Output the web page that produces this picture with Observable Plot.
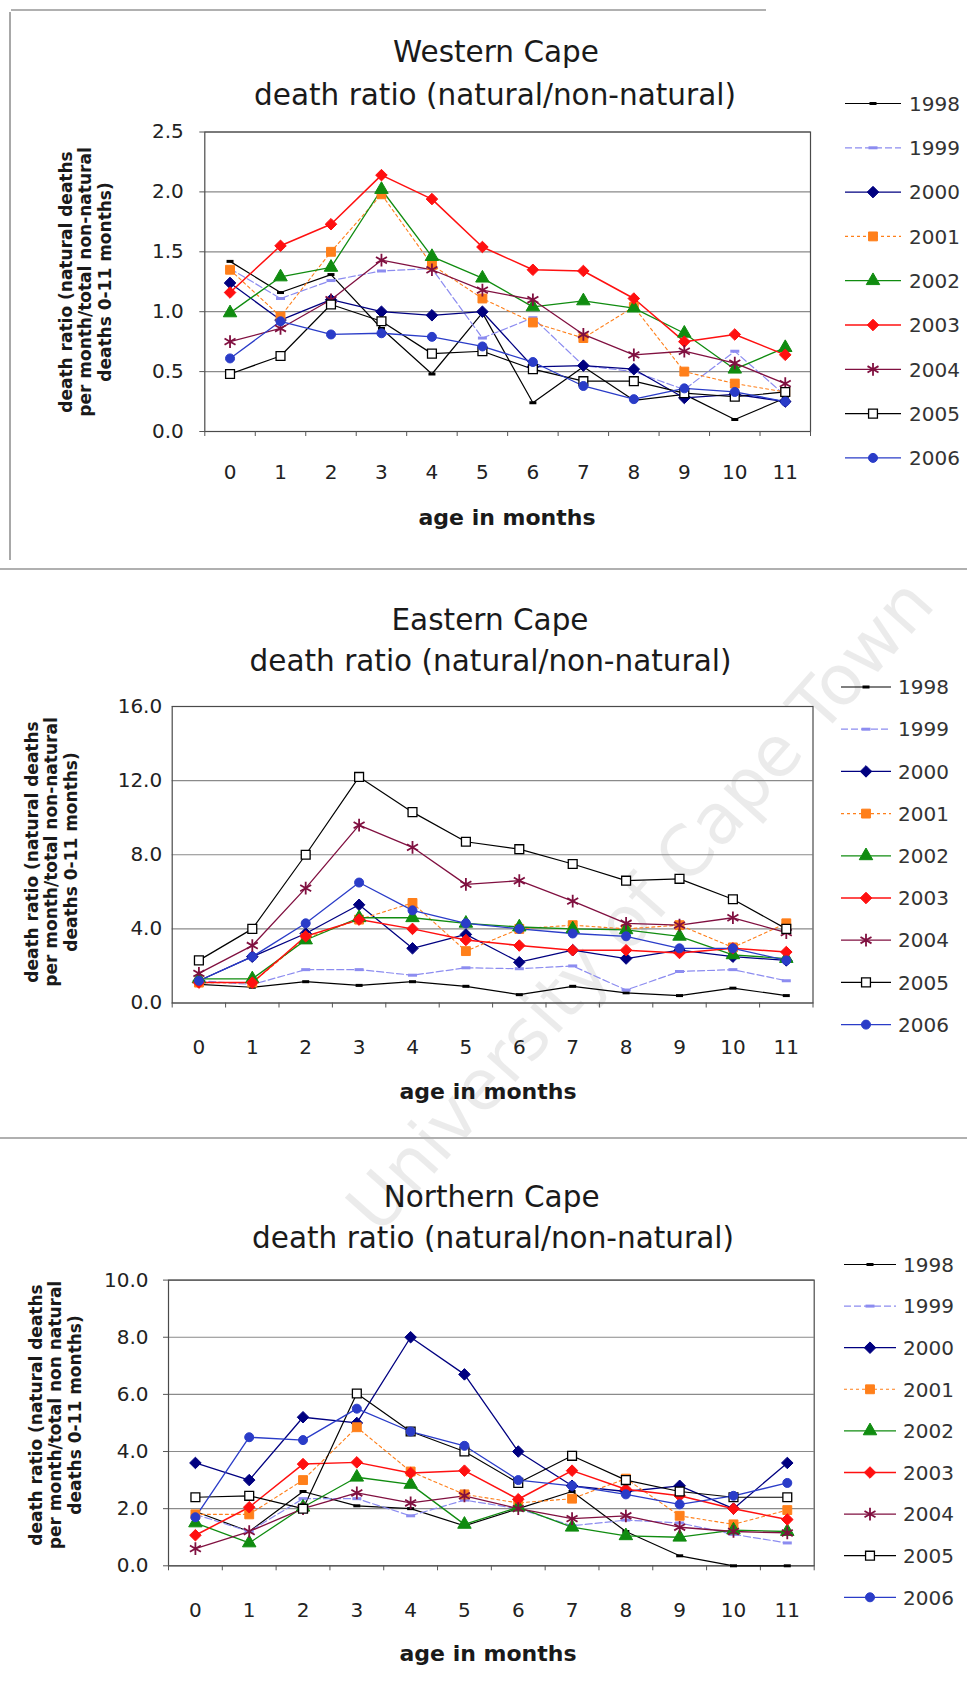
<!DOCTYPE html>
<html>
<head>
<meta charset="utf-8">
<script src="https://cdn.jsdelivr.net/npm/d3@7"></script>
<script src="https://cdn.jsdelivr.net/npm/@observablehq/plot@0.6"></script>
<style>
  body { margin: 0; background: #fff; }
  #page { position: relative; width: 967px; height: 1691px; overflow: hidden; background: #fff;
          font-family: "DejaVu Sans", sans-serif; color: #1a1a1a; }
  .abs { position: absolute; }
  .ttl { position: absolute; transform: translate(-50%, -50%); white-space: nowrap; font-size: 29.5px; }
  .xlab { position: absolute; transform: translate(-50%, -50%); white-space: nowrap; font-size: 22px; font-weight: bold; }
  .ylab { position: absolute; transform: translate(-50%, -50%) rotate(-90deg); white-space: pre; text-align: center;
          font-size: 17px; font-weight: bold; line-height: 19.4px; }
  .deco { position: absolute; background: #9a9a9a; }
  .wm { position: absolute; white-space: nowrap; font-size: 70px; color: rgba(0,0,0,0.08);
        transform: translate(-50%, -50%) rotate(-48.5deg); }
</style>
</head>
<body>
<div id="page"></div>
<script>
// ---------------- data ----------------
const months = [0, 1, 2, 3, 4, 5, 6, 7, 8, 9, 10, 11];
const years = ["1998", "1999", "2000", "2001", "2002", "2003", "2004", "2005", "2006"];

// Western Cape
const wc1998 = [1.42, 1.16, 1.31, 0.86, 0.48, 0.99, 0.24, 0.54, 0.26, 0.31, 0.10, 0.28];
const wc1999 = [1.36, 1.11, 1.26, 1.34, 1.36, 0.78, 0.95, 0.55, 0.50, 0.35, 0.67, 0.30];
const wc2000 = [1.24, 0.93, 1.10, 1.00, 0.97, 1.00, 0.54, 0.55, 0.52, 0.28, 0.31, 0.25];
const wc2001 = [1.35, 0.96, 1.50, 1.98, 1.39, 1.11, 0.91, 0.78, 1.04, 0.50, 0.40, 0.33];
const wc2002 = [0.99, 1.29, 1.37, 2.02, 1.46, 1.28, 1.04, 1.09, 1.03, 0.82, 0.52, 0.70];
const wc2003 = [1.16, 1.55, 1.73, 2.14, 1.94, 1.54, 1.35, 1.34, 1.11, 0.75, 0.81, 0.64];
const wc2004 = [0.75, 0.86, 1.10, 1.43, 1.35, 1.18, 1.10, 0.81, 0.64, 0.67, 0.57, 0.40];
const wc2005 = [0.48, 0.63, 1.06, 0.92, 0.65, 0.67, 0.52, 0.42, 0.42, 0.32, 0.29, 0.33];
const wc2006 = [0.61, 0.92, 0.81, 0.82, 0.79, 0.71, 0.58, 0.38, 0.27, 0.36, 0.33, 0.25];

// Eastern Cape
const ec1998 = [1.0, 0.85, 1.15, 0.95, 1.15, 0.9, 0.45, 0.9, 0.55, 0.4, 0.8, 0.4];
const ec1999 = [1.2, 1.0, 1.8, 1.8, 1.5, 1.9, 1.85, 2.0, 0.7, 1.7, 1.8, 1.2];
const ec2000 = [1.2, 2.5, 3.75, 5.3, 2.95, 3.7, 2.2, 2.85, 2.4, 2.85, 2.5, 2.3];
const ec2001 = [1.1, 1.1, 3.5, 4.5, 5.4, 2.8, 4.0, 4.2, 4.0, 4.2, 3.0, 4.3];
const ec2002 = [1.3, 1.3, 3.4, 4.6, 4.6, 4.3, 4.1, 4.0, 3.95, 3.6, 2.6, 2.4];
const ec2003 = [1.1, 1.1, 3.6, 4.5, 4.0, 3.4, 3.1, 2.85, 2.85, 2.7, 2.95, 2.75];
const ec2004 = [1.6, 3.1, 6.2, 9.6, 8.4, 6.4, 6.6, 5.5, 4.3, 4.2, 4.6, 3.8];
const ec2005 = [2.3, 4.0, 8.0, 12.2, 10.3, 8.7, 8.3, 7.5, 6.6, 6.7, 5.6, 4.0];
const ec2006 = [1.2, 2.5, 4.3, 6.5, 5.0, 4.3, 4.0, 3.75, 3.6, 2.95, 2.95, 2.3];

// Northern Cape
const nc1998 = [1.9, 1.2, 2.6, 2.1, 2.0, 1.4, 2.0, 2.6, 1.2, 0.35, 0.0, 0.0];
const nc1999 = [1.8, 1.2, 2.35, 2.35, 1.75, 2.3, 2.0, 1.4, 1.6, 1.5, 1.1, 0.8];
const nc2000 = [3.6, 3.0, 5.2, 5.0, 8.0, 6.7, 4.0, 2.8, 2.6, 2.8, 2.0, 3.6];
const nc2001 = [1.8, 1.8, 3.0, 4.85, 3.3, 2.5, 2.2, 2.35, 3.05, 1.75, 1.45, 1.95];
const nc2002 = [1.5, 0.8, 2.05, 3.1, 2.85, 1.45, 2.05, 1.35, 1.05, 1.0, 1.25, 1.2];
const nc2003 = [1.07, 2.05, 3.56, 3.62, 3.25, 3.33, 2.33, 3.33, 2.68, 2.45, 2.0, 1.62];
const nc2004 = [0.6, 1.2, 2.0, 2.55, 2.2, 2.45, 2.0, 1.65, 1.75, 1.35, 1.2, 1.15];
const nc2005 = [2.4, 2.45, 2.0, 6.03, 4.7, 4.0, 2.9, 3.85, 3.0, 2.6, 2.4, 2.4];
const nc2006 = [1.7, 4.5, 4.4, 5.5, 4.7, 4.2, 3.0, 2.8, 2.5, 2.15, 2.45, 2.9];

const wcTicks = [0, 0.5, 1.0, 1.5, 2.0, 2.5];
const ecTicks = [0, 4, 8, 12, 16];
const ncTicks = [0, 2, 4, 6, 8, 10];

const panelTitle = ["Western Cape", "Eastern Cape", "Northern Cape"];
const subTitle = "death ratio (natural/non-natural)";
const xTitle = "age in months";
const yTitles = [
  "death ratio (natural deaths\nper month/total non-natural\ndeaths 0-11 months)",
  "death ratio (natural deaths\nper month/total non-natural\ndeaths 0-11 months)",
  "death ratio (natural deaths\nper month/total non natural\ndeaths 0-11 months)"
];
const watermark = "University of Cape Town";

// ---------------- styles ----------------
const dash = { draw(ctx, size) { const w = Math.sqrt(size / Math.PI); ctx.moveTo(-w, 0); ctx.lineTo(w, 0); } };
const styles = {
  "1998": { color: "#000000", w: 1.2, dashArr: null, symbol: dash, r: 3.5, fill: "none", stroke: "#000000", sw: 3 },
  "1999": { color: "#8c8cf0", w: 1.2, dashArr: "7,3", symbol: dash, r: 4.5, fill: "none", stroke: "#8c8cf0", sw: 3 },
  "2000": { color: "#000080", w: 1.3, dashArr: null, symbol: "diamond2", r: 5.2, fill: "#000080", stroke: "#000080", sw: 1 },
  "2001": { color: "#ff7f1a", w: 1.1, dashArr: "3,3", symbol: "square", r: 5, fill: "#ff7f1a", stroke: "#ff7f1a", sw: 1 },
  "2002": { color: "#108c10", w: 1.3, dashArr: null, symbol: "triangle", r: 5, fill: "#108c10", stroke: "#108c10", sw: 1 },
  "2003": { color: "#ff1010", w: 1.5, dashArr: null, symbol: "diamond2", r: 5.2, fill: "#ff1010", stroke: "#ff1010", sw: 1 },
  "2004": { color: "#801040", w: 1.3, dashArr: null, symbol: "asterisk", r: 6, fill: "none", stroke: "#801040", sw: 1.8 },
  "2005": { color: "#000000", w: 1.2, dashArr: null, symbol: "square", r: 5, fill: "#ffffff", stroke: "#000000", sw: 1.3 },
  "2006": { color: "#2a3cc8", w: 1.3, dashArr: null, symbol: "circle", r: 4.5, fill: "#2a3cc8", stroke: "#2a3cc8", sw: 1 }
};
const d3Symbols = { diamond2: d3.symbolDiamond2, square: d3.symbolSquare, triangle: d3.symbolTriangle, asterisk: d3.symbolAsterisk, circle: d3.symbolCircle };

// ---------------- layout ----------------
const panels = [
  { series: [wc1998, wc1999, wc2000, wc2001, wc2002, wc2003, wc2004, wc2005, wc2006], ticks: wcTicks, ymax: 2.5,
    svgTop: 110, frameTop: 131.5, frameBottom: 431, left: 204.3, right: 810, tickSize: 5, tickPad: 16, xPad: 33,
    title: [496, 52], sub: [495, 95], xlab: [507, 517], ylab: [86, 282],
    legend: { top: 103.5, gap: 44.3, x1: 845, x2: 901, tx: 909 } },
  { series: [ec1998, ec1999, ec2000, ec2001, ec2002, ec2003, ec2004, ec2005, ec2006], ticks: ecTicks, ymax: 16,
    svgTop: 690, frameTop: 706, frameBottom: 1002.5, left: 171.7, right: 812.5, tickSize: 0, tickPad: 10, xPad: 36.5,
    title: [490, 620], sub: [490.5, 661], xlab: [488, 1091], ylab: [52, 852],
    legend: { top: 687, gap: 42.2, x1: 841, x2: 891, tx: 898 } },
  { series: [nc1998, nc1999, nc2000, nc2001, nc2002, nc2003, nc2004, nc2005, nc2006], ticks: ncTicks, ymax: 10,
    svgTop: 1265, frameTop: 1279.6, frameBottom: 1565.3, left: 168, right: 813.7, tickSize: 5, tickPad: 15, xPad: 37,
    title: [491.6, 1197], sub: [493, 1238], xlab: [488, 1652.6], ylab: [56, 1415],
    legend: { top: 1264.5, gap: 41.6, x1: 844, x2: 896, tx: 903 } }
];

const page = document.getElementById("page");

// watermark (behind everything)
function addText(cls, text, [x, y]) {
  const d = document.createElement("div");
  d.className = cls; d.textContent = text;
  d.style.left = x + "px"; d.style.top = y + "px";
  page.appendChild(d);
}
addText("wm", watermark, [640, 905]);

// scan decoration lines
[[11, 9, 755, 1.5], [0, 568, 967, 1.5], [0, 1137, 967, 1.5]].forEach(([x, y, w, h]) => {
  const d = document.createElement("div"); d.className = "deco";
  Object.assign(d.style, { left: x + "px", top: y + "px", width: w + "px", height: h + "px", background: "#b0b0b0" });
  page.appendChild(d);
});
{ const d = document.createElement("div"); d.className = "deco";
  Object.assign(d.style, { left: "9px", top: "12px", width: "1.5px", height: "548px", background: "#a8a8a8" });
  page.appendChild(d); }

const halfTicks = d3.range(-0.5, 12, 1);

panels.forEach((p, pi) => {
  const rows = [];
  years.forEach((yr, i) => p.series[i].forEach((v, m) => rows.push({ year: yr, month: months[m], value: v })));

  const marginBottom = 60;
  const marginTop = p.frameTop - p.svgTop;
  const height = marginTop + (p.frameBottom - p.frameTop) + marginBottom;

  const marks = [
    Plot.ruleY(p.ticks, { stroke: "#8a8a8a", strokeWidth: 1.2 }),
    Plot.frame({ stroke: "#4a4a4a", strokeWidth: 1.2 }),
    Plot.axisY({ ticks: p.ticks, tickFormat: d => d.toFixed(1), tickSize: p.tickSize, tickPadding: p.tickPad, label: null, stroke: "#555" }),
    Plot.axisX({ ticks: halfTicks, tickFormat: () => "", tickSize: 5, label: null, stroke: "#555" }),
    Plot.axisX({ ticks: months, tickFormat: d => String(d), tickSize: 0, tickPadding: p.xPad, label: null })
  ];
  years.forEach(yr => {
    const st = styles[yr];
    const d = rows.filter(r => r.year === yr);
    marks.push(Plot.line(d, { x: "month", y: "value", stroke: st.color, strokeWidth: st.w, strokeDasharray: st.dashArr || undefined }));
  });
  years.forEach(yr => {
    const st = styles[yr];
    const d = rows.filter(r => r.year === yr);
    marks.push(Plot.dot(d, { x: "month", y: "value", symbol: st.symbol, r: st.r, fill: st.fill, stroke: st.stroke, strokeWidth: st.sw }));
  });

  const chart = Plot.plot({
    width: 967,
    height,
    marginLeft: p.left,
    marginRight: 967 - p.right,
    marginTop,
    marginBottom,
    x: { domain: [-0.5, 11.5] },
    y: { domain: [0, p.ymax] },
    style: { fontFamily: "DejaVu Sans, sans-serif", fontSize: "20px", color: "#222", background: "transparent", overflow: "visible" },
    marks
  });
  chart.style.position = "absolute";
  chart.style.left = "0px";
  chart.style.top = p.svgTop + "px";
  page.appendChild(chart);

  addText("ttl", panelTitle[pi], p.title);
  addText("ttl", subTitle, p.sub);
  addText("xlab", xTitle, p.xlab);
  addText("ylab", yTitles[pi], p.ylab);

  // legend
  const L = p.legend;
  const svg = d3.select(page).append("svg")
    .attr("class", "abs")
    .style("left", "0px").style("top", "0px")
    .attr("width", 967).attr("height", 1691)
    .style("pointer-events", "none");
  years.forEach((yr, i) => {
    const st = styles[yr];
    const y = L.top + i * L.gap;
    const g = svg.append("g");
    g.append("line").attr("x1", L.x1).attr("x2", L.x2).attr("y1", y).attr("y2", y)
      .attr("stroke", st.color).attr("stroke-width", st.w).attr("stroke-dasharray", st.dashArr);
    const sym = typeof st.symbol === "string" ? d3Symbols[st.symbol] : st.symbol;
    g.append("path").attr("d", d3.symbol(sym, st.r * st.r * Math.PI)())
      .attr("transform", `translate(${(L.x1 + L.x2) / 2},${y})`)
      .attr("fill", st.fill).attr("stroke", st.stroke).attr("stroke-width", st.sw);
    g.append("text").attr("x", L.tx).attr("y", y).attr("dy", "0.36em")
      .attr("font-family", "DejaVu Sans, sans-serif").attr("font-size", 20).attr("fill", "#333").text(yr);
  });
});
</script>
</body>
</html>
